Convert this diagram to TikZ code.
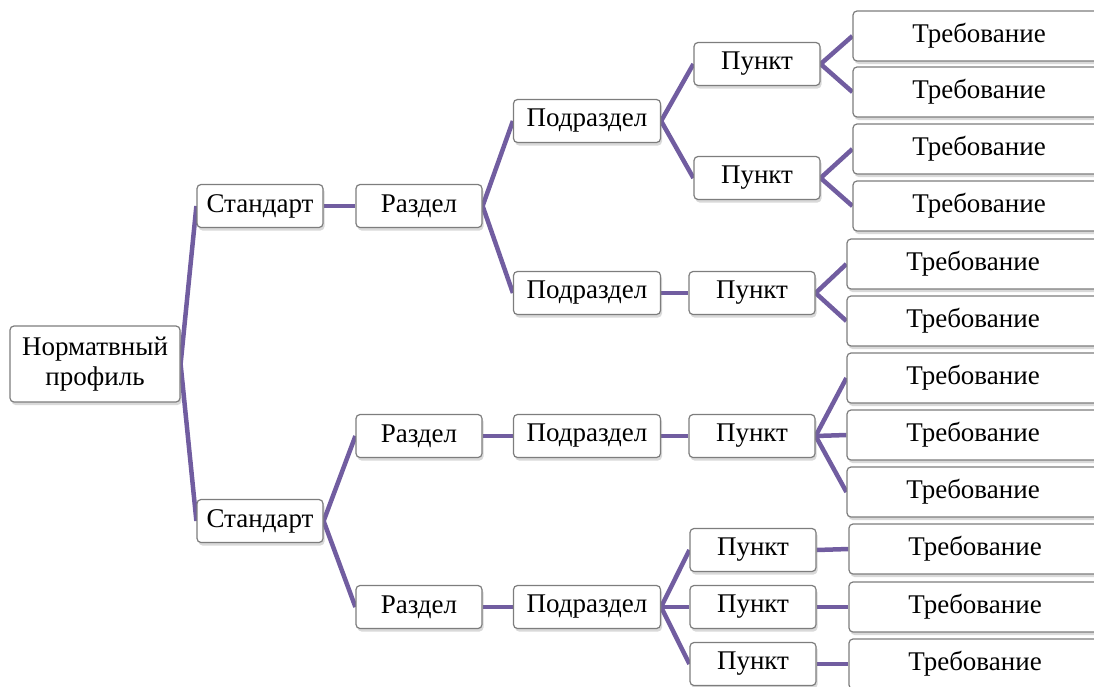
\documentclass[tikz,border=0pt]{standalone}
\usepackage{fontspec}
\setmainfont{Liberation Serif}
\usetikzlibrary{shadows,backgrounds}
\definecolor{linkc}{RGB}{113,93,160}
\definecolor{boxc}{RGB}{125,125,125}

\begin{document}
\begin{tikzpicture}[x=1pt,y=-1pt,font=\fontsize{27}{30}\selectfont,
  box/.style={draw=boxc,fill=white,rounded corners=4pt,line width=1.2pt,inner sep=0pt,
    minimum height=43pt,minimum width=126pt,
    drop shadow={opacity=0.3,shadow xshift=1.5pt,shadow yshift=-3pt}},
  sub/.style={box,minimum width=147pt},
  treb/.style={box,minimum width=252pt,minimum height=50pt},
  link/.style={draw=linkc,line width=4.5pt}]

\useasboundingbox (0,0) rectangle (1094,686);

\node[box,minimum width=170pt,minimum height=76pt,align=center] (prof) at (95,364) {Норматвный\\профиль};

\node[box] (s1) at (260,206) {Стандарт};
\node[box] (s2) at (260,521) {Стандарт};

\node[box] (r1) at (419,206) {Раздел};
\node[box] (r2) at (419,436) {Раздел};
\node[box] (r3) at (419,607) {Раздел};

\node[sub] (p1) at (587,121) {Подраздел};
\node[sub] (p2) at (587,293) {Подраздел};
\node[sub] (p3) at (587,436) {Подраздел};
\node[sub] (p4) at (587,607) {Подраздел};

\node[box] (k1) at (757,64) {Пункт};
\node[box] (k2) at (757,178) {Пункт};
\node[box] (k3) at (752,293) {Пункт};
\node[box] (k4) at (752,436) {Пункт};
\node[box] (k5) at (753,550) {Пункт};
\node[box] (k6) at (753,607) {Пункт};
\node[box] (k7) at (753,664) {Пункт};

% requirements
\foreach \i/\x/\y in {1/979/36,2/979/92,3/979/149,4/979/206,5/973/264,6/973/321,
    7/973/378,8/973/435,9/973/492,10/975/549,11/975/607,12/975/664}
  \node[treb] (t\i) at (\x,\y) {Требование};

\begin{scope}[on background layer]
\foreach \a/\b in {prof/s1,prof/s2,s1/r1,s2/r2,s2/r3,r1/p1,r1/p2,r2/p3,r3/p4,
    p1/k1,p1/k2,p2/k3,p3/k4,p4/k5,p4/k6,p4/k7,k1/t1,k1/t2,k2/t3,k2/t4,
    k3/t5,k3/t6,k4/t7,k4/t8,k4/t9,k5/t10,k6/t11,k7/t12}
  \draw[link] (\a.east) -- (\b.west);
\end{scope}

\end{tikzpicture}
\end{document}
